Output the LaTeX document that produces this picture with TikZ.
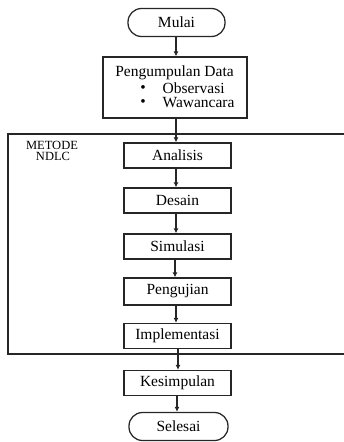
\documentclass[tikz,border=0pt]{standalone}
\usepackage{fontspec}
\setmainfont{Liberation Serif}
\usetikzlibrary{arrows.meta}
\begin{document}
\begin{tikzpicture}[x=1pt,y=-1pt,
  font=\fontsize{15.5}{17}\selectfont,
  line width=1.25pt,
  terminal/.style={draw=black!85, rounded corners=13.5pt, minimum width=97pt, minimum height=28pt, inner sep=0pt},
  stepbox/.style={draw=black!85, minimum width=107pt, minimum height=25pt, inner sep=0pt},
  item/.style={anchor=west, inner sep=0pt, text height=10pt, text depth=0.5pt},
  caps/.style={font=\fontsize{12.5}{12}\selectfont, inner sep=0pt, text height=8.5pt, text depth=0pt},
  flow/.style={draw=black!85, -{Latex[length=5pt,width=5pt]}}]
\useasboundingbox (0,0) rectangle (344,442);

% start and data collection
\node[terminal] (mulai) at (176.5,22.5) {Mulai};
\node[draw=black!85, minimum width=144pt, minimum height=61pt, inner sep=0pt] (data) at (175,87.5) {};
\node[inner sep=0pt] (judul) at (174.5,73) {Pengumpulan Data};
\node[inner sep=0pt] (b1) at (143,89) {\textbullet};
\node[inner sep=0pt] (b2) at (143,103) {\textbullet};
\node[item] (obs) at (162,88.5) {Observasi};
\node[item] (waw) at (162,103) {Wawancara};

% NDLC frame (open on the right)
\draw[draw=black!85] (346,134) -- (8,134) -- (8,354) -- (346,354);
\node[caps] (metode) at (52,145) {METODE};
\node[caps] (ndlc) at (53,156.5) {NDLC};

% NDLC stages
\node[stepbox] (analisis) at (177.5,155.5) {Analisis};
\node[stepbox] (desain) at (177.5,200.5) {Desain};
\node[stepbox] (simulasi) at (177.5,246.5) {Simulasi};
\node[stepbox, minimum height=27pt] (pengujian) at (177.5,291.5) {Pengujian};
\node[stepbox] (implementasi) at (177.5,336) {Implementasi};

% closing
\node[stepbox] (kesimpulan) at (177.5,383) {Kesimpulan};
\node[terminal, minimum width=99pt] (selesai) at (178.5,426.5) {Selesai};

% connectors
\draw[flow] (mulai.south -| 176,0) -- (data.north -| 176,0);
\draw[flow] (data.south -| 176,0) -- (analisis.north -| 176,0);
\draw[flow] (analisis.south -| 176,0) -- (desain.north -| 176,0);
\draw[flow] (desain.south -| 176,0) -- (simulasi.north -| 176,0);
\draw[flow] (simulasi.south -| 175,0) -- (pengujian.north -| 175,0);
\draw[flow] (pengujian.south -| 176,0) -- (implementasi.north -| 176,0);
\draw[flow] (implementasi.south -| 178,0) -- (kesimpulan.north -| 178,0);
\draw[flow] (kesimpulan.south -| 177,0) -- (selesai.north -| 177,0);
\end{tikzpicture}
\end{document}
